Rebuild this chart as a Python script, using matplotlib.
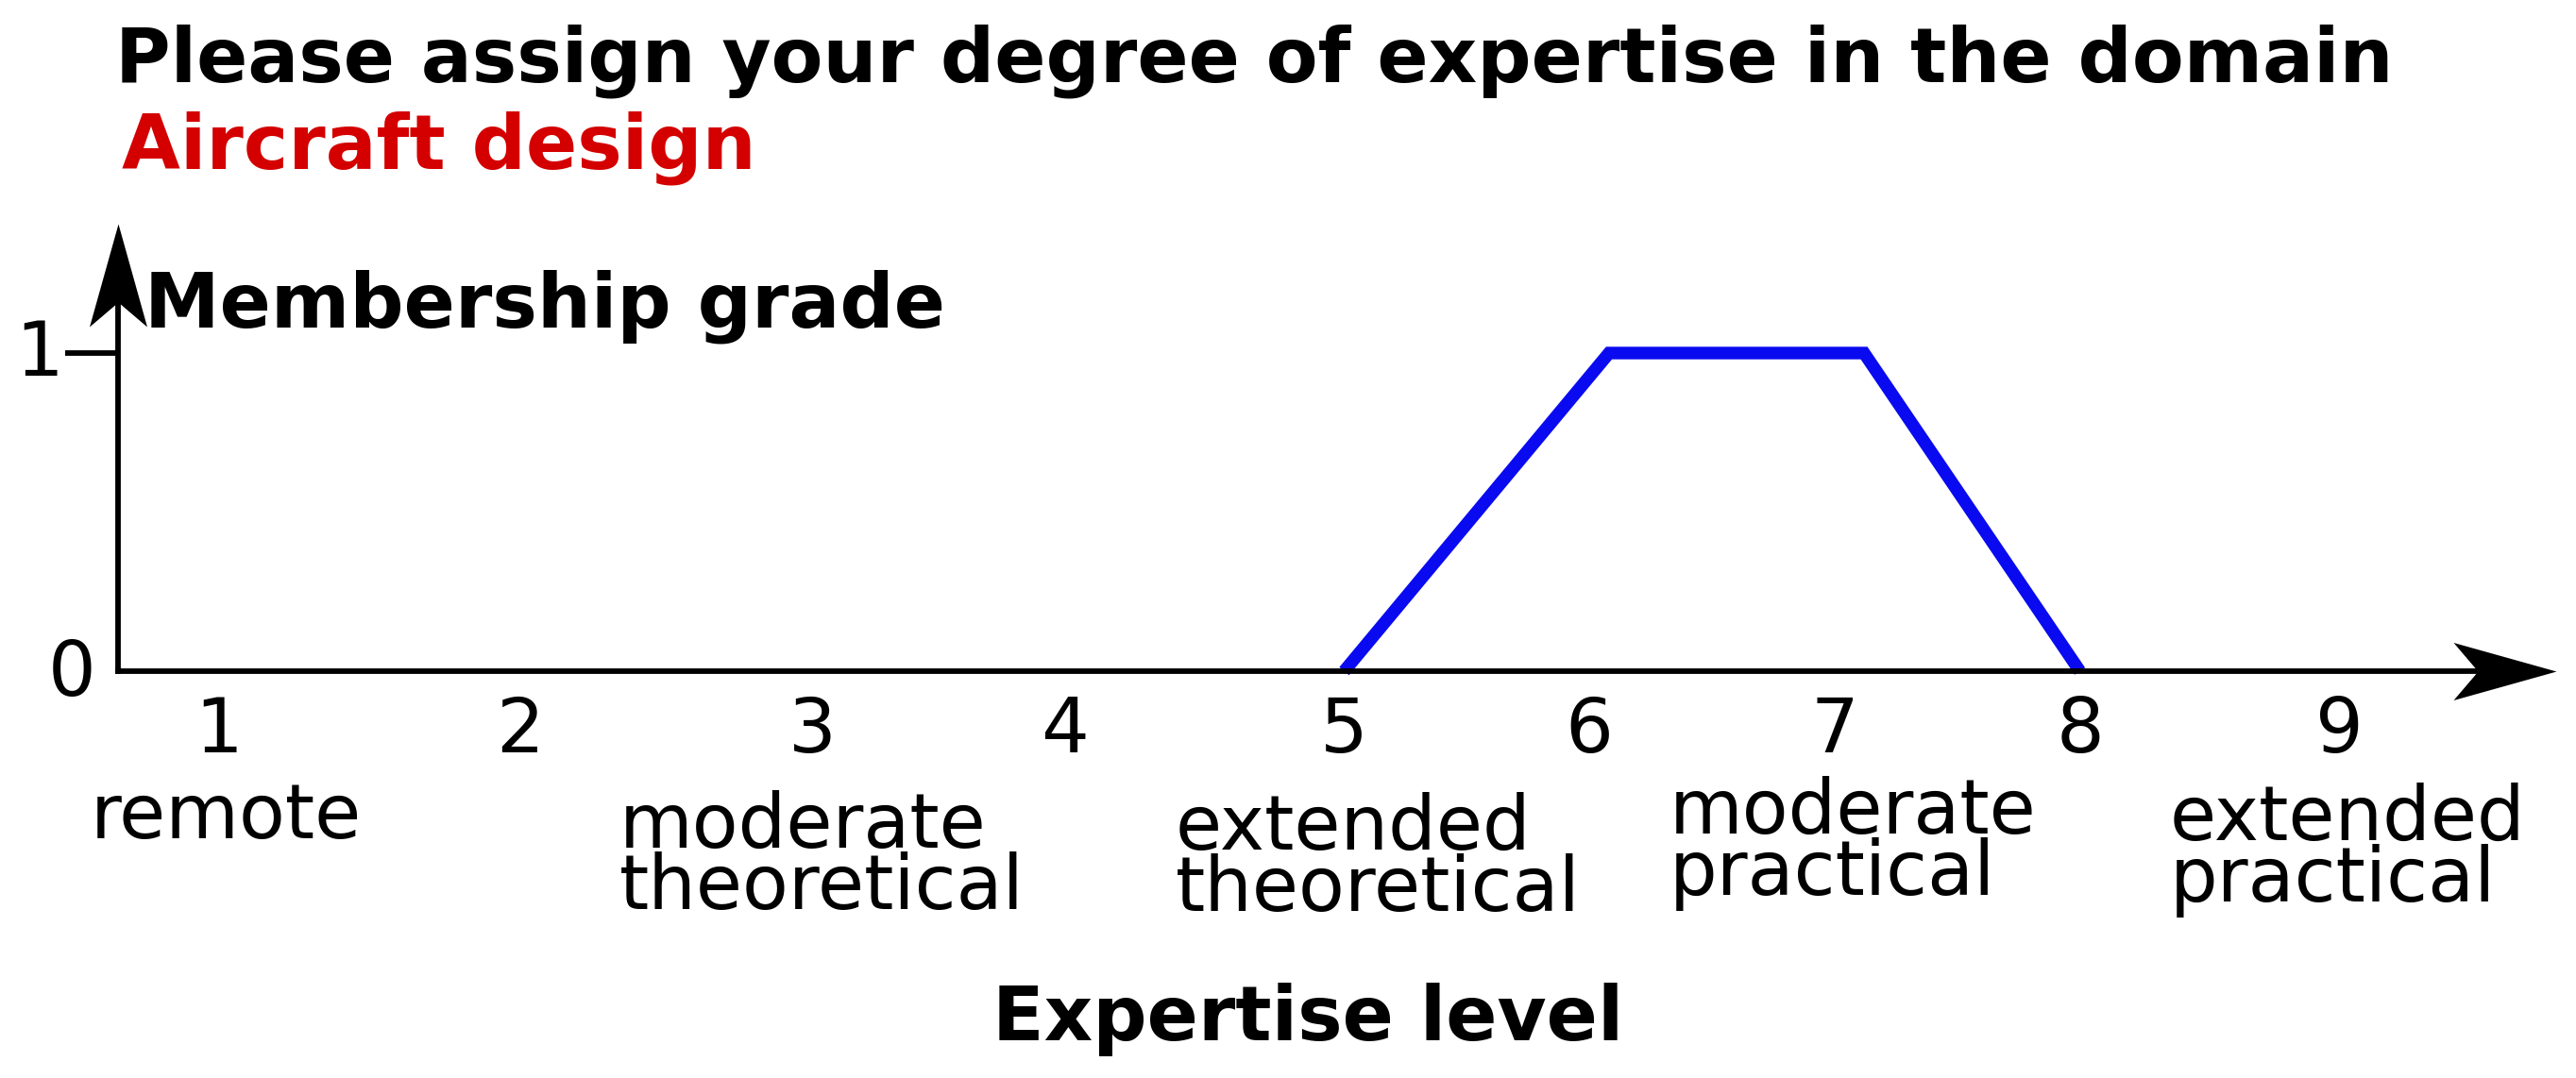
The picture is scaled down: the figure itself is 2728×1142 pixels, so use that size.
import matplotlib
matplotlib.use("Agg")
import matplotlib.pyplot as plt
import matplotlib.transforms as mtransforms
from matplotlib.path import Path

# ---------------- data ----------------
title_line1 = "Please assign your degree of expertise in the domain"
domain_name = "Aircraft design"
y_label = "Membership grade"
x_label = "Expertise level"

levels = ["1", "2", "3", "4", "5", "6", "7", "8", "9"]
level_pos = [0.41, 1.64, 2.83, 3.86, 5.0, 6.0, 7.0, 8.0, 9.06]

membership_x = [5.0, 6.08, 7.12, 8.0]
membership_y = [0.0, 1.0, 1.0, 0.0]

category_labels = ["remote", "moderate\ntheoretical", "extended\ntheoretical",
                   "moderate\npractical", "extended\npractical"]

# ---------------- layout ----------------
W, H, DPI = 2728, 1142, 100
X0_PX, XUNIT = 125.0, 259.7      # pixel of x=0, pixels per x unit
Y0_PX, YUNIT = 711.0, 337.0      # pixel (from top) of y=0, pixels per y unit


def px2data(px, py):
    return (px - X0_PX) / XUNIT, (Y0_PX - py) / YUNIT


FS = 57.6        # text size (pt)
FONT = dict(family="DejaVu Sans")

fig = plt.figure(figsize=(W / DPI, H / DPI), dpi=DPI)
ax = fig.add_axes([0, 0, 1, 1])
ax.set_xlim(-X0_PX / XUNIT, (W - X0_PX) / XUNIT)
ax.set_ylim(-(H - Y0_PX) / YUNIT, Y0_PX / YUNIT)
ax.patch.set_visible(False)

# axes lines
for s in ("top", "right"):
    ax.spines[s].set_visible(False)
ax.spines["left"].set_position(("data", 0))
ax.spines["bottom"].set_position(("data", 0))
x_end, _ = px2data(2650, 0)
_, y_end = px2data(0, 300)
ax.spines["left"].set_bounds(0, y_end)
ax.spines["bottom"].set_bounds(0, x_end)
for s in ("left", "bottom"):
    ax.spines[s].set_linewidth(4.2)
    ax.spines[s].set_capstyle("projecting")

# arrow heads (notched, tip at origin)
L, HW, N = 109.0, 30.5, 83.0
right_head = Path([(0, 0), (-L, HW), (-N, 0), (-L, -HW), (0, 0)],
                  [Path.MOVETO, Path.LINETO, Path.LINETO, Path.LINETO, Path.CLOSEPOLY])
up_head = Path([(0, 0), (HW, -L), (0, -N), (-HW, -L), (0, 0)],
               [Path.MOVETO, Path.LINETO, Path.LINETO, Path.LINETO, Path.CLOSEPOLY])
msize = 2 * L * 72 / DPI
tipx, _ = px2data(2707, 0)
ax.plot([tipx], [0], marker=right_head, markersize=msize, color="black",
        markeredgewidth=0, clip_on=False)
_, tipy = px2data(0, 237)
ax.plot([0], [tipy], marker=up_head, markersize=msize, color="black",
        markeredgewidth=0, clip_on=False)

# ticks
ax.set_xticks(level_pos)
ax.set_xticklabels(levels, fontsize=FS, **FONT)
ax.tick_params(axis="x", length=0, pad=18)
ax.set_yticks([1])
ax.set_yticklabels(["1"], fontsize=FS, **FONT)
ax.tick_params(axis="y", length=40, width=4.2, pad=1.5, direction="out")
shift_up = mtransforms.ScaledTranslation(0, 6 / DPI, fig.dpi_scale_trans)
for lab in ax.get_yticklabels():
    lab.set_transform(lab.get_transform() + shift_up)

x0lab, y0lab = px2data(76.5, 737)
ax.text(x0lab, y0lab, "0", fontsize=FS, ha="center", va="baseline", **FONT)

# membership function
ax.plot(membership_x, membership_y, color="#0a0af0", linewidth=9.6,
        solid_capstyle="butt", solid_joinstyle="miter", clip_on=False)

# category labels (left x pixel, last-line baseline pixel)
cat_px = [(96, 888), (656, 963), (1245, 965), (1768, 948), (2298, 955)]
for lab, (px, py) in zip(category_labels, cat_px):
    xd, yd = px2data(px, py)
    ax.text(xd, yd, lab, fontsize=FS, ha="left", va="baseline",
            multialignment="left", linespacing=0.79, **FONT)


# titles
def ftext(px, py, s, **kw):
    fig.text(px / W, 1 - py / H, s, va="baseline", **kw)


ftext(122.5, 87, title_line1, fontsize=FS, fontweight="bold", **FONT)
ftext(129, 178, domain_name, fontsize=FS, fontweight="bold", color="#d40000", **FONT)
ftext(153, 346, y_label, fontsize=FS, fontweight="bold", **FONT)
ftext(1385, 1102, x_label, fontsize=FS, fontweight="bold", ha="center", **FONT)

fig.savefig("out.png", dpi=DPI)
